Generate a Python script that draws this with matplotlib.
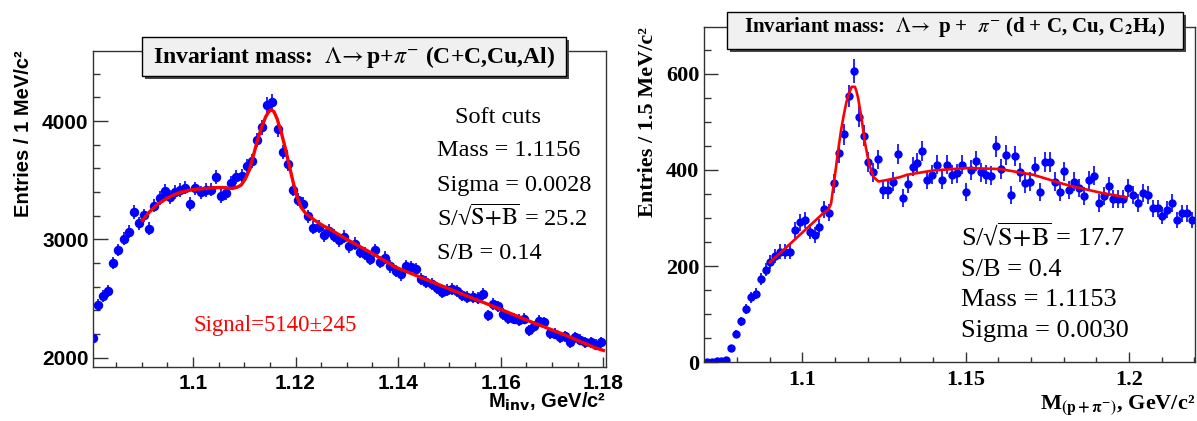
import numpy as np
import matplotlib
matplotlib.use('Agg')
import matplotlib.pyplot as plt
from matplotlib.patches import Rectangle

W, H = 1197, 421          # output size in pixels
BLUE = '#0000ff'
RED = '#ff0000'

plt.rcParams['mathtext.fontset'] = 'stix'

# ---- left panel: C+C, Cu, Al  (1 MeV bins) ----
L_BIN0 = 1.0805
L_BINW = 0.001
L_COUNTS = [2166, 2447, 2522, 2559, 2798, 2910, 3003, 3065, 3230, 3135,
            3203, 3090, 3285, 3347, 3408, 3360, 3398, 3415, 3438, 3297,
            3430, 3396, 3415, 3421, 3523, 3364, 3393, 3477, 3528, 3536,
            3619, 3664, 3839, 3946, 4136, 4164, 3932, 3740, 3641, 3421,
            3336, 3302, 3195, 3099, 3105, 3034, 3071, 3030, 2990, 3020,
            2941, 2963, 2892, 2878, 2836, 2907, 2808, 2845, 2771, 2730,
            2703, 2771, 2766, 2751, 2667, 2638, 2624, 2590, 2554, 2575,
            2582, 2562, 2525, 2511, 2511, 2506, 2540, 2356, 2455, 2432,
            2370, 2336, 2328, 2319, 2328, 2229, 2263, 2308, 2299, 2206,
            2201, 2172, 2178, 2130, 2172, 2150, 2130, 2130, 2110, 2130]
L_FIT_X = [1.0902, 1.0915, 1.0929, 1.0945, 1.0961, 1.0978, 1.0994, 1.1010,
           1.1026, 1.1042, 1.1058, 1.1068, 1.1077, 1.1086, 1.1094, 1.1102,
           1.1110, 1.1118, 1.1126, 1.1134, 1.1142, 1.1148, 1.1153, 1.1158,
           1.1164, 1.1171, 1.1179, 1.1187, 1.1195, 1.1203, 1.1211, 1.1220,
           1.1236, 1.1252, 1.1265, 1.1303, 1.1350, 1.1394, 1.1460, 1.1523,
           1.1590, 1.1652, 1.1720, 1.1781, 1.1800]
L_FIT_Y = [3161, 3230, 3288, 3335, 3373, 3400, 3415, 3425,
           3430, 3436, 3438, 3432, 3430, 3440, 3458, 3510,
           3585, 3710, 3839, 3950, 4037, 4080, 4095, 4079,
           4020, 3924, 3790, 3641, 3490, 3359, 3270, 3218,
           3165, 3119, 3090, 2992, 2880, 2766, 2650, 2540,
           2425, 2314, 2200, 2087, 2060]
L_XTICKS = [1.10, 1.12, 1.14, 1.16, 1.18]
L_XLABELS = ['1.1', '1.12', '1.14', '1.16', '1.18']
L_YTICKS = [2000, 3000, 4000]
SQ = 'S/\u221a' + r'$\overline{\mathrm{S\!+\!B}}$'   # S/sqrt(S+B)
L_STATS = ['Soft cuts', 'Mass = 1.1156', 'Sigma = 0.0028',
           SQ + ' = 25.2', 'S/B = 0.14']
L_SIGNAL = 'Signal=5140\u00b1245'

# ---- right panel: d + C, Cu, C2H4  (1.5 MeV bins) ----
R_BIN0 = 1.07075
R_BINW = 0.0015
R_COUNTS = [1, 1, 2, 3, 5, 29, 59, 85, 111, 135,
            143, 173, 193, 209, 221, 230, 230, 230, 275, 291,
            296, 272, 265, 281, 318, 311, 372, 436, 474, 554,
            606, 511, 471, 416, 395, 422, 359, 359, 376, 433,
            341, 371, 407, 415, 440, 379, 390, 411, 379, 411,
            390, 393, 411, 355, 400, 419, 395, 390, 388, 449,
            402, 431, 348, 429, 395, 372, 376, 407, 355, 416,
            416, 376, 355, 397, 359, 376, 362, 345, 379, 388,
            331, 345, 366, 339, 339, 339, 362, 348, 331, 352,
            348, 320, 320, 305, 317, 331, 296, 310, 310, 296]
R_FIT_X = [1.0901, 1.0962, 1.1013, 1.1064, 1.1080, 1.1088, 1.1095, 1.1103,
           1.1110, 1.1118, 1.1126, 1.1134, 1.1141, 1.1151, 1.1161, 1.1166,
           1.1171, 1.1182, 1.1192, 1.1204, 1.1217, 1.1233, 1.1258, 1.1299,
           1.1320, 1.1401, 1.1503, 1.1605, 1.1707, 1.1809, 1.1911, 1.1993]
R_FIT_Y = [208, 246, 278, 310, 318, 330, 365, 405,
           442, 480, 511, 538, 556, 573, 573, 563,
           549, 504, 456, 414, 386, 376, 379, 385,
           390, 399, 404, 402, 390, 369, 353, 343]
R_XTICKS = [1.10, 1.15, 1.20]
R_XLABELS = ['1.1', '1.15', '1.2']
R_YTICKS = [0, 200, 400, 600]
R_STATS = [SQ + ' = 17.7', 'S/B = 0.4',
           'Mass = 1.1153', 'Sigma = 0.0030']

SERIF = ['Liberation Serif', 'DejaVu Serif']


def px_axes(fig, x0, y0, x1, y1):
    """axes from pixel box (top-left origin)"""
    return fig.add_axes([x0 / W, (H - y1) / H, (x1 - x0) / W, (y1 - y0) / H])


def title_box(fig, x0, y0, x1, y1, text, size, base):
    # shadow + grey box, ROOT style
    fig.patches.append(Rectangle(((x0 + 3) / W, (H - y1 - 3) / H), (x1 - x0) / W, (y1 - y0) / H,
                                 transform=fig.transFigure, fc='#444444', ec='none', zorder=5))
    fig.patches.append(Rectangle((x0 / W, (H - y1) / H), (x1 - x0) / W, (y1 - y0) / H,
                                 transform=fig.transFigure, fc='#f0f0f0', ec='black', lw=1.0, zorder=6))
    fig.text((x0 + x1) / 2 / W, (H - base) / H, text, ha='center', va='baseline',
             fontsize=size, fontfamily=SERIF, fontweight='bold', zorder=7)


def frame(ax):
    for s in ax.spines.values():
        s.set_color('#333333')
        s.set_linewidth(1.0)


fig = plt.figure(figsize=(W / 100, H / 100), dpi=100)

# ================= left =================
ax = px_axes(fig, 93.3, 50.7, 606, 367)
lx = L_BIN0 + L_BINW * np.arange(len(L_COUNTS))
ly = np.array(L_COUNTS, dtype=float)
ax.errorbar(lx, ly, yerr=np.sqrt(ly), xerr=L_BINW / 2, fmt='o', color=BLUE,
            ms=5.8, elinewidth=1.2, capsize=0, zorder=2)
ax.plot(L_FIT_X, L_FIT_Y, color=RED, lw=2.4, zorder=3)
ax.set_xlim(1.0806, 1.1805)
ax.set_ylim(1920, 4595)
lsans = dict(fontfamily='Liberation Sans', fontweight='bold', fontsize=15)
ax.set_xticks(L_XTICKS, L_XLABELS, **lsans)
ax.set_yticks(L_YTICKS, [str(v) for v in L_YTICKS], **lsans)
ax.set_xticks(np.arange(1.085, 1.1801, 0.005), minor=True)
ax.set_yticks(np.arange(2000, 4600, 200), minor=True)
ax.tick_params(which='both', direction='in', top=False, right=False, width=1, color='#333333')
ax.tick_params(axis='y', which='major', length=10.5, pad=3.4)
ax.tick_params(axis='y', which='minor', length=5.3)
ax.tick_params(axis='x', which='major', length=7.5, pad=5)
ax.tick_params(axis='x', which='minor', length=3.6)
frame(ax)

ax.text(-0.137, 1.0, 'Entries / 1 MeV/c\u00b2', rotation=90, ha='center', va='top',
        transform=ax.transAxes, fontfamily='Liberation Sans', fontweight='bold', fontsize=14.5)
ax.text(1.0, -0.111, r'M$_{\mathbf{inv}}$, GeV/c' + '\u00b2', ha='right', va='center',
        transform=ax.transAxes, math_fontfamily='dejavusans',
        fontfamily='Liberation Sans', fontweight='bold', fontsize=14.5)

for txt, yb, xl in zip(L_STATS, [0.772, 0.6665, 0.556, 0.448, 0.341],
                       [0.7055, 0.671, 0.671, 0.671, 0.671]):
    ax.text(xl, yb, txt, transform=ax.transAxes, va='baseline', ha='left',
            fontfamily=SERIF, fontsize=17.5)
ax.text(0.1945, 0.1138, L_SIGNAL, transform=ax.transAxes, va='baseline', ha='left',
        fontfamily=SERIF, fontsize=16.5, color=RED)

title_box(fig, 142.4, 37.3, 565.6, 75.7,
          r'Invariant mass:  $\Lambda\!\rightarrow$p+$\pi^{-}$ (C+C,Cu,Al)', 17, 63)

# ================= right =================
ax2 = px_axes(fig, 704.3, 26.7, 1195, 362.3)
rx = R_BIN0 + R_BINW * np.arange(len(R_COUNTS))
ry = np.array(R_COUNTS, dtype=float)
ax2.errorbar(rx, ry, yerr=np.sqrt(ry), fmt='o', color=BLUE,
             ms=5.0, elinewidth=1.2, capsize=0, zorder=2)
ax2.plot(R_FIT_X, R_FIT_Y, color=RED, lw=1.9, zorder=3)
ax2.set_xlim(1.07, 1.2202)
ax2.set_ylim(0, 698)
rserif = dict(fontfamily=SERIF, fontweight='bold', fontsize=16)
ax2.set_xticks(R_XTICKS, R_XLABELS, **rserif)
ax2.set_yticks(R_YTICKS, [str(v) for v in R_YTICKS], **rserif)
ax2.set_xticks(np.arange(1.08, 1.2201, 0.01), minor=True)
ax2.set_yticks(np.arange(0, 700, 50), minor=True)
ax2.tick_params(which='both', direction='in', top=False, right=False, width=1, color='#333333')
ax2.tick_params(axis='y', which='major', length=10, pad=3.6)
ax2.tick_params(axis='y', which='minor', length=4.8)
ax2.tick_params(axis='x', which='major', length=7, pad=5.5)
ax2.tick_params(axis='x', which='minor', length=3.4)
frame(ax2)

ax2.text(-0.1155, 1.0, 'Entries / 1.5 MeV/c\u00b2', rotation=90, ha='center', va='top',
         transform=ax2.transAxes, **rserif)
ax2.text(1.0, -0.127, r'M$_{\mathbf{(p+\pi^{-})}}$, GeV/c' + '\u00b2', ha='right', va='center',
         transform=ax2.transAxes, **rserif)

for txt, yb in zip(R_STATS, [0.3457, 0.258, 0.1687, 0.0745]):
    ax2.text(0.523, yb, txt, transform=ax2.transAxes, va='baseline', ha='left',
             fontfamily=SERIF, fontsize=19)

title_box(fig, 726.8, 11.7, 1182.6, 49.3,
          r'Invariant mass:  $\Lambda\!\rightarrow$ p +  $\pi^{-}$ (d + C, Cu, C$_{\mathbf{2}}$H$_{\mathbf{4}}$)',
          15, 32)

fig.savefig('out.png', dpi=100)
